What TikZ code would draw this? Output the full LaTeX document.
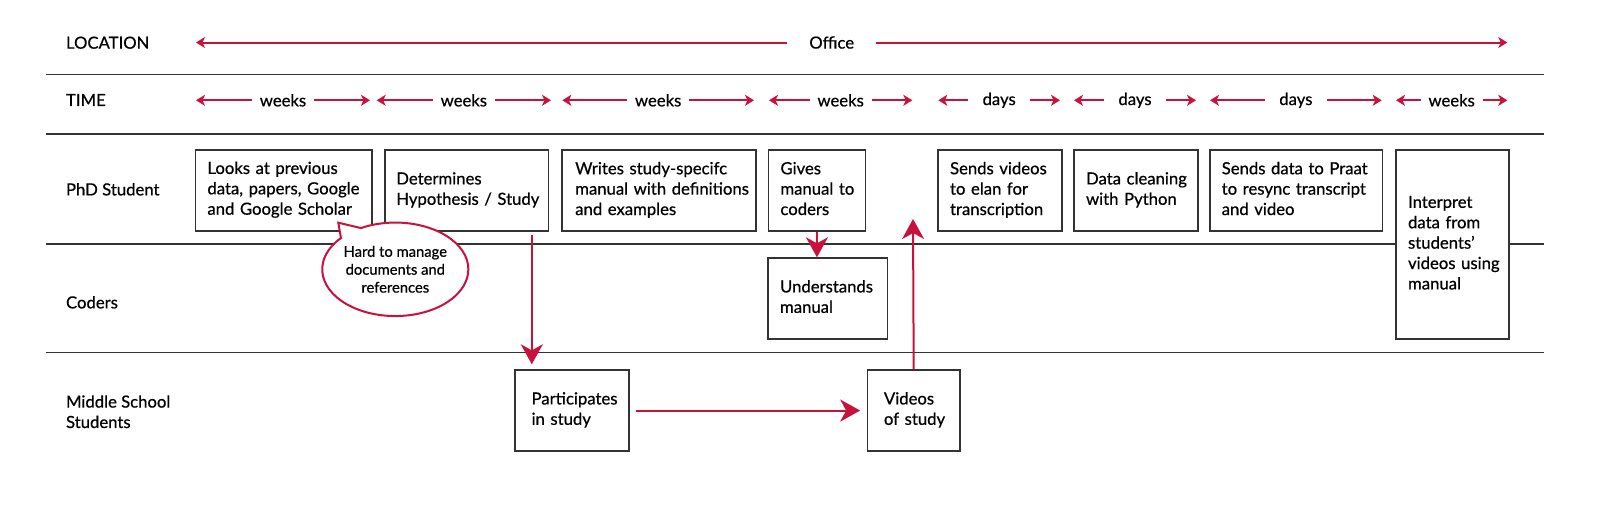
\documentclass[tikz,border=0pt]{standalone}
\usepackage{fontspec}
\setmainfont{Lato}[FakeBold=0.6]
\usetikzlibrary{arrows.meta, shapes.callouts}

\definecolor{accent}{RGB}{200,18,60}
\definecolor{lanerule}{RGB}{51,51,51}

\newcommand{\boxfont}{\fontsize{9.5pt}{11.6pt}\selectfont}
\newcommand{\notefont}{\fontsize{8.4pt}{10.2pt}\selectfont}
% lines of a box that must not wrap
\newcommand{\tasktext}[1]{\begin{tabular}{@{}l@{}}#1\end{tabular}}

\tikzset{
  task/.style={draw=lanerule, line width=0.3mm, fill=white, anchor=north west, inner xsep=2.4mm, inner ysep=0pt, minimum height=16.2mm, align=left, font=\boxfont},
  lane/.style={anchor=west, inner sep=0pt, align=left, font=\boxfont},
  span/.style={inner sep=0pt, minimum width=12.2mm, minimum height=4mm, font=\boxfont},
  tarrow/.style={draw=accent, line width=0.4mm, -{Stealth[length=1.8mm, width=2.2mm, inset=0.5mm]}},
  bigarrow/.style={draw=accent, line width=0.4mm, -{Stealth[length=4mm, width=4.4mm, inset=1.2mm]}},
}

\begin{document}
\begin{tikzpicture}[x=0.2mm, y=-0.2mm]
  \useasboundingbox (0,0) rectangle (1600,523);

  % lane rules
  \foreach \y in {74.7, 134, 244, 352.7}
    \draw[lanerule, line width=0.3mm] (45.7,\y) -- (1544,\y);

  % lane labels
  \node[lane] (location) at (65.7,42.7) {LOCATION};
  \node[lane] (time) at (65.7,100) {TIME};
  \node[lane] (phd) at (65.7,189.3) {PhD Student};
  \node[lane] (coders) at (65.7,302.3) {Coders};
  \node[lane] (pupils) at (65.7,411.7) {Middle School\\Students};

  % location
  \coordinate (loc-w) at (196,42.5);
  \coordinate (loc-e) at (1507.3,42.5);
  \node[span, minimum width=17.6mm] (office) at (831.7,42.5) {Office};
  \draw[tarrow] (office) -- (loc-w);
  \draw[tarrow] (office) -- (loc-e);

  % time spans
  \foreach \l/\r/\dur [count=\i] in {196/370/weeks, 376.7/551/weeks, 562.3/754/weeks, 769/912.3/weeks, 938.3/1060/days, 1074/1196/days, 1210/1381.7/days, 1396/1507.3/weeks} {
    \coordinate (t\i-w) at (\l,100.3);
    \coordinate (t\i-e) at (\r,100.3);
    \node[span] (t\i) at ({(\l+\r)/2},100.3) {\dur};
    \draw[tarrow] (t\i) -- (t\i-w);
    \draw[tarrow] (t\i) -- (t\i-e);
  }

  % PhD student
  \node[task, text width=30.5mm] (survey) at (194.7,149) {\tasktext{Looks at previous\\data, papers, Google\\and Google Scholar}};
  \node[task, text width=28.2mm, inner xsep=2.25mm] (hypo) at (384.3,149.3) {\tasktext{Determines\\Hypothesis / Study}};
  \node[task, text width=33.4mm, inner xsep=2.7mm] (manual) at (561,149.3) {\tasktext{Writes study-specifc\\manual with definitions\\and examples}};
  \node[task, text width=14.6mm] (handover) at (767.7,149.3) {\tasktext{Gives\\manual to\\coders}};
  \node[task, text width=20mm] (elan) at (937.3,149.3) {\tasktext{Sends videos\\to elan for\\transcription}};
  \node[task, text width=20mm] (cleaning) at (1073.3,149.3) {\tasktext{Data cleaning\\with Python}};
  \node[task, text width=29.7mm] (praat) at (1209,149.3) {\tasktext{Sends data to Praat\\to resync transcript\\and video}};

  % coders
  \node[task, text width=17.8mm, minimum height=37.8mm] (interpret) at (1395.3,149.3) {\tasktext{Interpret\\data from\\students’\\videos using\\manual}};
  \node[task, text width=19.1mm] (understand) at (767.3,257.3) {\tasktext{Understands\\manual}};

  % middle school students
  \node[task, text width=16.2mm, inner xsep=3.3mm] (participate) at (514.3,369.3) {\tasktext{Participates\\in study}};
  \node[task, text width=11.9mm, inner xsep=3.3mm] (videos) at (866.7,369.3) {\tasktext{Videos\\of study}};

  % pain point
  \node[ellipse callout, draw=accent, line width=0.4mm, fill=white, minimum width=27.5mm, minimum height=18.7mm, inner sep=0pt, align=center, font=\notefont, callout absolute pointer={(338.3,222.7)}, callout pointer arc=20] (pain) at (395.3,269.3) {Hard to manage\\documents and\\references};

  % flow
  \draw[bigarrow, shorten <=0.6mm, shorten >=1mm] ([xshift=-3.5mm]hypo.south east) -- ([xshift=-3.5mm]hypo.south east |- participate.north);
  \draw[bigarrow] (handover.south) -- (handover.south |- understand.north);
  \draw[bigarrow, shorten <=1.3mm, shorten >=1.3mm] (participate.east) -- (videos.west);
  \coordinate (upload) at (913,219);
  \draw[bigarrow] (videos.north) -- (upload);
\end{tikzpicture}
\end{document}
